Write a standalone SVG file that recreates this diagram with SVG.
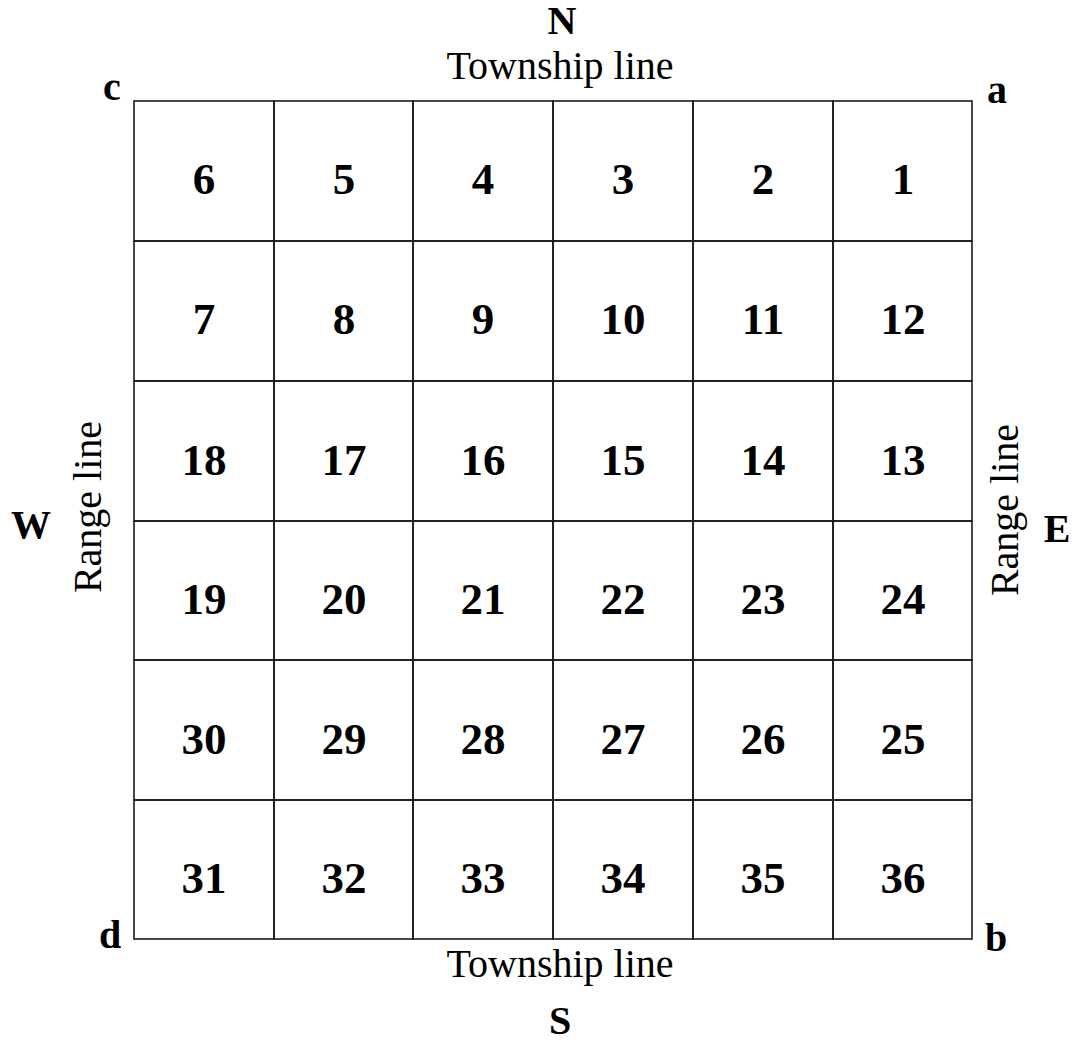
<svg xmlns="http://www.w3.org/2000/svg" width="1074" height="1043" viewBox="0 0 1074 1043">
<style>
.bg{fill:#fff}
.cell rect{fill:none;stroke:#1a1a1a;stroke-width:1.6}
.num{font-family:"Liberation Serif","Times New Roman",serif;font-weight:bold;font-size:45px;text-anchor:middle;fill:#000}
.dir{font-family:"Liberation Serif","Times New Roman",serif;font-weight:bold;font-size:40px;text-anchor:middle;fill:#000}
.lbl{font-family:"Liberation Serif","Times New Roman",serif;font-size:40px;text-anchor:middle;fill:#000}
</style>
<rect class="bg" x="0" y="0" width="1074" height="1043"/>
<g id="labels">
<text class="dir" x="562" y="34">N</text>
<text class="lbl" x="560" y="79">Township line</text>
<text class="lbl" x="560" y="977">Township line</text>
<text class="dir" x="560" y="1034">S</text>
<text class="dir" x="31" y="538">W</text>
<text class="dir" x="1057" y="542">E</text>
<text class="lbl" transform="translate(101,507) rotate(-90)">Range line</text>
<text class="lbl" transform="translate(1018,510) rotate(-90)">Range line</text>
<text class="dir" x="112" y="100">c</text>
<text class="dir" x="997" y="103">a</text>
<text class="dir" x="110" y="948">d</text>
<text class="dir" x="996" y="951">b</text>
</g>
<g id="cells">
<g id="s6" class="cell"><rect x="134" y="101" width="140" height="140"/><text class="num" x="204" y="194">6</text></g>
<g id="s5" class="cell"><rect x="274" y="101" width="139" height="140"/><text class="num" x="344" y="194">5</text></g>
<g id="s4" class="cell"><rect x="413" y="101" width="140" height="140"/><text class="num" x="483" y="194">4</text></g>
<g id="s3" class="cell"><rect x="553" y="101" width="140" height="140"/><text class="num" x="623" y="194">3</text></g>
<g id="s2" class="cell"><rect x="693" y="101" width="140" height="140"/><text class="num" x="763" y="194">2</text></g>
<g id="s1" class="cell"><rect x="833" y="101" width="139" height="140"/><text class="num" x="903" y="194">1</text></g>

<g id="s7" class="cell"><rect x="134" y="241" width="140" height="140"/><text class="num" x="204" y="334">7</text></g>
<g id="s8" class="cell"><rect x="274" y="241" width="139" height="140"/><text class="num" x="344" y="334">8</text></g>
<g id="s9" class="cell"><rect x="413" y="241" width="140" height="140"/><text class="num" x="483" y="334">9</text></g>
<g id="s10" class="cell"><rect x="553" y="241" width="140" height="140"/><text class="num" x="623" y="334">10</text></g>
<g id="s11" class="cell"><rect x="693" y="241" width="140" height="140"/><text class="num" x="763" y="334">11</text></g>
<g id="s12" class="cell"><rect x="833" y="241" width="139" height="140"/><text class="num" x="903" y="334">12</text></g>

<g id="s18" class="cell"><rect x="134" y="381" width="140" height="140"/><text class="num" x="204" y="475">18</text></g>
<g id="s17" class="cell"><rect x="274" y="381" width="139" height="140"/><text class="num" x="344" y="475">17</text></g>
<g id="s16" class="cell"><rect x="413" y="381" width="140" height="140"/><text class="num" x="483" y="475">16</text></g>
<g id="s15" class="cell"><rect x="553" y="381" width="140" height="140"/><text class="num" x="623" y="475">15</text></g>
<g id="s14" class="cell"><rect x="693" y="381" width="140" height="140"/><text class="num" x="763" y="475">14</text></g>
<g id="s13" class="cell"><rect x="833" y="381" width="139" height="140"/><text class="num" x="903" y="475">13</text></g>

<g id="s19" class="cell"><rect x="134" y="521" width="140" height="139"/><text class="num" x="204" y="614">19</text></g>
<g id="s20" class="cell"><rect x="274" y="521" width="139" height="139"/><text class="num" x="344" y="614">20</text></g>
<g id="s21" class="cell"><rect x="413" y="521" width="140" height="139"/><text class="num" x="483" y="614">21</text></g>
<g id="s22" class="cell"><rect x="553" y="521" width="140" height="139"/><text class="num" x="623" y="614">22</text></g>
<g id="s23" class="cell"><rect x="693" y="521" width="140" height="139"/><text class="num" x="763" y="614">23</text></g>
<g id="s24" class="cell"><rect x="833" y="521" width="139" height="139"/><text class="num" x="903" y="614">24</text></g>

<g id="s30" class="cell"><rect x="134" y="660" width="140" height="140"/><text class="num" x="204" y="754">30</text></g>
<g id="s29" class="cell"><rect x="274" y="660" width="139" height="140"/><text class="num" x="344" y="754">29</text></g>
<g id="s28" class="cell"><rect x="413" y="660" width="140" height="140"/><text class="num" x="483" y="754">28</text></g>
<g id="s27" class="cell"><rect x="553" y="660" width="140" height="140"/><text class="num" x="623" y="754">27</text></g>
<g id="s26" class="cell"><rect x="693" y="660" width="140" height="140"/><text class="num" x="763" y="754">26</text></g>
<g id="s25" class="cell"><rect x="833" y="660" width="139" height="140"/><text class="num" x="903" y="754">25</text></g>

<g id="s31" class="cell"><rect x="134" y="800" width="140" height="139"/><text class="num" x="204" y="893">31</text></g>
<g id="s32" class="cell"><rect x="274" y="800" width="139" height="139"/><text class="num" x="344" y="893">32</text></g>
<g id="s33" class="cell"><rect x="413" y="800" width="140" height="139"/><text class="num" x="483" y="893">33</text></g>
<g id="s34" class="cell"><rect x="553" y="800" width="140" height="139"/><text class="num" x="623" y="893">34</text></g>
<g id="s35" class="cell"><rect x="693" y="800" width="140" height="139"/><text class="num" x="763" y="893">35</text></g>
<g id="s36" class="cell"><rect x="833" y="800" width="139" height="139"/><text class="num" x="903" y="893">36</text></g>
</g>
<g id="connectors"></g>
</svg>
